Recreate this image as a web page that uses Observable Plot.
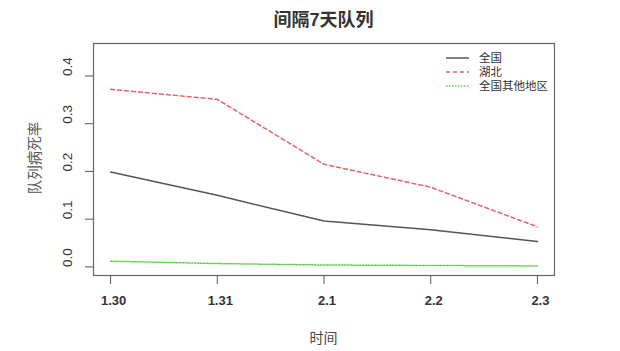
<!DOCTYPE html>
<html>
<head>
<meta charset="utf-8">
<script src="https://cdn.jsdelivr.net/npm/d3@7"></script>
<script src="https://cdn.jsdelivr.net/npm/@observablehq/plot@0.6"></script>
<style>
  html, body { margin: 0; padding: 0; background: #fff; }
  #wrap { position: relative; width: 620px; height: 351px; font-family: "Liberation Sans", Arial, "Noto Sans CJK SC", sans-serif; }
  #wrap > svg { position: absolute; left: 0; top: 0; }
  .title { position: absolute; left: 93px; width: 461px; top: 9px; line-height: 22px; text-align: center; font-size: 18px; font-weight: bold; color: #333; font-family: "Liberation Sans", "Noto Sans CJK SC", sans-serif; }
  .xlab { position: absolute; left: 93px; width: 461px; top: 328px; line-height: 18px; text-align: center; font-size: 14px; color: #444; font-family: "Noto Sans CJK SC", sans-serif; }
  .ylab { position: absolute; left: 34px; top: 158px; line-height: 16px; transform: translate(-50%, -50%) rotate(-90deg); white-space: nowrap; font-size: 14.5px; color: #555; font-family: "Noto Sans CJK SC", sans-serif; }
  .legend { position: absolute; left: 446px; top: 51px; font-size: 11.5px; color: #333; font-family: "Liberation Sans", "Noto Sans CJK SC", sans-serif; }
  .legend .row { display: flex; align-items: center; height: 14.2px; }
  .legend .row span { display: block; height: 12px; line-height: 12px; overflow: visible; white-space: nowrap; }
  .legend svg { margin-right: 10px; flex: none; }
</style>
</head>
<body>
<div id="wrap"></div>
<script>
const titleText = "间隔7天队列";
const xTitle = "时间";
const yTitle = "队列病死率";
const dates = ["1.30", "1.31", "2.1", "2.2", "2.3"];
const seriesNames = ["全国", "湖北", "全国其他地区"];
const national = [0.199, 0.150, 0.096, 0.078, 0.053];
const hubei = [0.372, 0.351, 0.215, 0.167, 0.084];
const others = [0.012, 0.007, 0.004, 0.003, 0.002];
const yTicks = [0, 0.1, 0.2, 0.3, 0.4];

const colors = ["#555555", "#e3646f", "#61D04F"];
const dashes = [null, "4,3", "1.5,1.5"];
const widths = [1.5, 1.5, 1.5];

const valuesBySeries = [national, hubei, others];
const data = [];
valuesBySeries.forEach((vals, s) => vals.forEach((v, i) => data.push({series: seriesNames[s], i, date: dates[i], value: v})));
const idx = dates.map((d, i) => i);

const lines = seriesNames.map((name, s) =>
  Plot.line(data.filter(d => d.series === name), {
    x: "i", y: "value", stroke: colors[s], strokeWidth: widths[s], strokeDasharray: dashes[s]
  })
);

const chart = Plot.plot({
  width: 620,
  height: 351,
  marginLeft: 93,
  marginRight: 66,
  marginTop: 43,
  marginBottom: 76,
  style: {background: "transparent", fontFamily: "Liberation Sans, Arial, sans-serif"},
  x: {domain: [-0.16, 4.16]},
  y: {domain: [-0.018, 0.468]},
  marks: [
    Plot.frame({stroke: "#666", strokeWidth: 1.2}),
    Plot.axisY({ticks: yTicks, tickSize: 8, tickFormat: () => "", stroke: "#555", label: null}),
    Plot.axisX({ticks: idx, tickSize: 9, tickFormat: () => "", stroke: "#555", label: null}),
    Plot.text(yTicks, {y: d => d, text: d => d3.format(".1f")(d), frameAnchor: "left", dx: -26, rotate: -90, fontSize: 13.5, fill: "#333"}),
    Plot.text(idx, {x: d => d, text: d => dates[d], frameAnchor: "bottom", dy: 29, dx: 3, fontSize: 13, fontWeight: "bold", fill: "#333"}),
    ...lines
  ]
});

const wrap = document.getElementById("wrap");
wrap.appendChild(chart);

const t = document.createElement("div"); t.className = "title"; t.textContent = titleText; wrap.appendChild(t);
const xl = document.createElement("div"); xl.className = "xlab"; xl.textContent = xTitle; wrap.appendChild(xl);
const yl = document.createElement("div"); yl.className = "ylab"; yl.textContent = yTitle; wrap.appendChild(yl);

const lg = document.createElement("div"); lg.className = "legend";
seriesNames.forEach((name, s) => {
  const row = document.createElement("div"); row.className = "row";
  const sw = document.createElementNS("http://www.w3.org/2000/svg", "svg");
  sw.setAttribute("width", 23); sw.setAttribute("height", 6);
  const ln = document.createElementNS("http://www.w3.org/2000/svg", "line");
  ln.setAttribute("x1", 0); ln.setAttribute("x2", 23); ln.setAttribute("y1", 3); ln.setAttribute("y2", 3);
  ln.setAttribute("stroke", colors[s]); ln.setAttribute("stroke-width", widths[s]);
  if (dashes[s]) ln.setAttribute("stroke-dasharray", dashes[s]);
  sw.appendChild(ln); row.appendChild(sw);
  const tx = document.createElement("span"); tx.textContent = name; row.appendChild(tx);
  lg.appendChild(row);
});
wrap.appendChild(lg);
</script>
</body>
</html>
